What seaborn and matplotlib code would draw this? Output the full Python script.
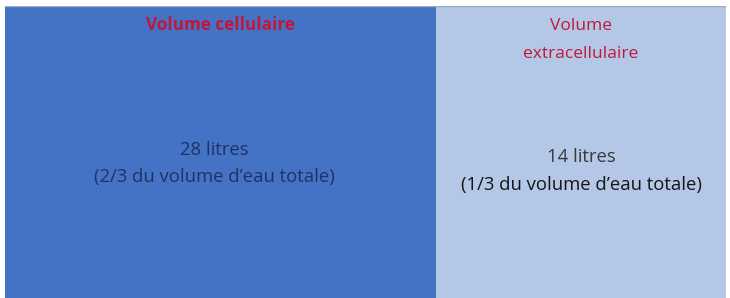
import numpy as np
import seaborn as sns
import matplotlib.pyplot as plt

# Compartments of total body water
compartments = ["Volume cellulaire", "Volume\nextracellulaire"]
litres = [28, 14]
fractions = ["2/3", "1/3"]
panel_share = [0.598, 0.402]   # relative width of each box in the picture
box_colors = ["#4472C4", "#B4C7E7"]
body_colors = ["#1F3363", "#3A3A3A"]

sns.set_theme(style="white")
plt.rcParams['font.family'] = ['Open Sans', 'DejaVu Sans']

fig = plt.figure(figsize=(7.3, 2.98), dpi=100)
ax = fig.add_axes([5 / 730, 0, 721 / 730, 292 / 298])

lefts = np.concatenate([[0], np.cumsum(panel_share)[:-1]])
ax.bar(lefts, [1] * len(panel_share), width=panel_share, align='edge',
       color=box_colors, edgecolor='none')

for i, name in enumerate(compartments):
    xc = lefts[i] + panel_share[i] / 2
    ax.text(xc, 0.935 if i == 0 else 0.884, name, ha='center', va='center',
            color='#C0183C', fontsize=12.3 if i == 0 else 12.5,
            fontweight='bold' if i == 0 else 'normal', linespacing=1.95)
    y1, y2 = (0.507, 0.414) if i == 0 else (0.483, 0.387)
    dx = 0.009 if i == 0 else 0
    ax.text(xc - dx, y1, f"{litres[i]} litres", ha='center', va='center',
            color=body_colors[i], fontsize=13.3)
    ax.text(xc - dx, y2, f"({fractions[i]} du volume d\u2019eau totale)",
            ha='center', va='center', color=body_colors[i] if i == 0 else '#151515',
            fontsize=13.3)

ax.set_xlim(0, 1)
ax.set_ylim(0, 1)
ax.axis('off')
ax.axhline(1, color='#9AA8C0', lw=1)

fig.savefig('out.png', dpi=100)
